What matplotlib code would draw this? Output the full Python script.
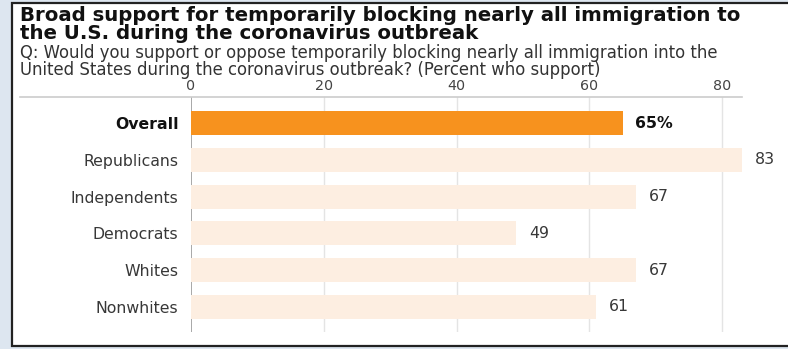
import matplotlib.pyplot as plt
from matplotlib.patches import Rectangle
from matplotlib.lines import Line2D

groups = ['Overall', 'Republicans', 'Independents', 'Democrats', 'Whites', 'Nonwhites']
support = [65, 83, 67, 49, 67, 61]
value_labels = ['65%', '83', '67', '49', '67', '61']
ticks = [0, 20, 40, 60, 80]

title = ('Broad support for temporarily blocking nearly all immigration to\n'
         'the U.S. during the coronavirus outbreak')
question = ('Q: Would you support or oppose temporarily blocking nearly all immigration into the\n'
            'United States during the coronavirus outbreak? (Percent who support)')

W, H = 788, 349
fig = plt.figure(figsize=(W / 100, H / 100), dpi=100)
fig.patch.set_facecolor('#dde6f0')

# white card with dark border, kept behind the axes
card = Rectangle((12 / W, 3 / H), 1.2, 343 / H, transform=fig.transFigure,
                 facecolor='white', edgecolor='#222222', linewidth=1.6, zorder=-5)
fig.patches.append(card)

ax = fig.add_axes([191 / W, 1 - 332 / H, (742 - 191) / W, (332 - 97) / H])
ax.set_facecolor('none')

colors = ['#f7921e'] + ['#fdeee1'] * (len(groups) - 1)
y = list(range(len(groups)))
ax.barh(y, support, height=0.65, color=colors, zorder=2)

ax.set_xlim(0, 83)
ax.set_ylim(5.68, -0.707)
for t in ticks:
    ax.axvline(t, color='#9a9a9a' if t == 0 else '#e4e4e4', linewidth=1.2 if t == 0 else 1.0, zorder=1)

ax.xaxis.tick_top()
ax.set_xticks(ticks)
ax.set_xticklabels([str(t) for t in ticks], fontsize=10.3, color='#444444')
ax.tick_params(axis='x', length=0, pad=3)
ax.set_yticks(y)
ax.set_yticklabels(groups, fontsize=11.3, color='#383838')
ax.tick_params(axis='y', length=0, pad=9)
ax.get_yticklabels()[0].set_fontweight('bold')
ax.get_yticklabels()[0].set_color('#111111')
for s in ax.spines.values():
    s.set_visible(False)

for i, (v, lab) in enumerate(zip(support, value_labels)):
    ax.text(v + 1.9, i, lab, va='center', ha='left', fontsize=11.3,
            color='#111111' if i == 0 else '#383838',
            fontweight='bold' if i == 0 else 'normal')

# rule under the tick labels
fig.lines.append(Line2D([20 / W, 742 / W], [1 - 97 / H, 1 - 97 / H], transform=fig.transFigure,
                        color='#cccccc', linewidth=1.2))

fig.text(20 / W, 1 - 6 / H, title, ha='left', va='top', fontsize=14.2, fontweight='bold',
         color='#111111', linespacing=0.95)
fig.text(20 / W, 1 - 44 / H, question, ha='left', va='top', fontsize=11.9,
         color='#333333', linespacing=0.9)

fig.savefig('out.png', dpi=100, facecolor=fig.get_facecolor())
